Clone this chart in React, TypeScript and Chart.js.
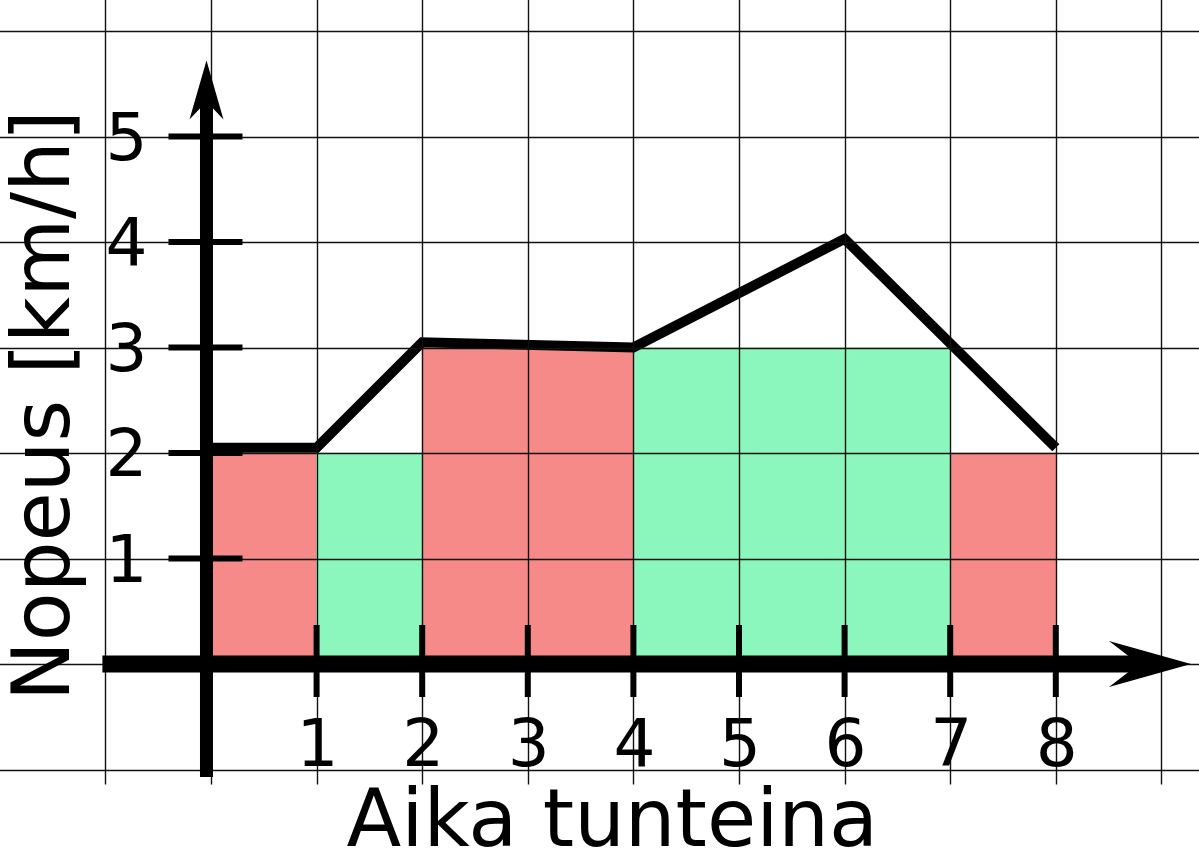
import React, { useEffect, useRef } from 'react';
import { Chart, registerables } from 'chart.js';

Chart.register(...registerables);

// ---- data ----
const barHours = [0.5, 1.5, 2.5, 3.5, 4.5, 5.5, 6.5, 7.5];
const barSpeeds = [2, 2, 3, 3, 3, 3, 3, 2];
const barKinds = ['red', 'green', 'red', 'red', 'green', 'green', 'green', 'red'];
const lineHours = [0, 1, 2, 4, 6, 8];
const lineSpeeds = [2.05, 2.05, 3.05, 3.0, 4.03, 2.05];
const xTickLabels = [1, 2, 3, 4, 5, 6, 7, 8];
const yTickLabels = [1, 2, 3, 4, 5];
const gridXValues = [-1, 0, 1, 2, 3, 4, 5, 6, 7, 8, 9];
const gridYValues = [-1, 0, 1, 2, 3, 4, 5, 6];
const xTitle = 'Aika tunteina';
const yTitle = 'Nopeus [km/h]';

const RED = 'rgb(246,138,136)';
const GREEN = 'rgb(140,247,188)';
const FONT = '"DejaVu Sans", sans-serif';

const drawPlugin = {
  id: 'handDrawnAxes',
  afterDatasetsDraw(chart: any) {
    const ctx = chart.ctx as CanvasRenderingContext2D;
    const xs = chart.scales.x;
    const ys = chart.scales.y;
    const px = (v: number) => xs.getPixelForValue(v);
    const py = (v: number) => ys.getPixelForValue(v);
    const W = chart.width;
    ctx.save();

    // grid
    ctx.strokeStyle = '#111';
    ctx.lineWidth = 1.4;
    ctx.beginPath();
    for (const v of gridXValues) {
      const x = Math.round(px(v)) + 0.5;
      ctx.moveTo(x, 0);
      ctx.lineTo(x, py(-1) + 15);
    }
    for (const v of gridYValues) {
      const y = Math.round(py(v)) + 0.5;
      ctx.moveTo(0, y);
      ctx.lineTo(W, y);
    }
    ctx.stroke();

    ctx.fillStyle = '#000';
    ctx.strokeStyle = '#000';

    // x axis
    const y0 = py(0);
    ctx.lineWidth = 17;
    ctx.lineCap = 'butt';
    ctx.beginPath();
    ctx.moveTo(px(-1) - 3, y0);
    ctx.lineTo(px(8.9), y0);
    ctx.stroke();
    const xTip = px(9.28);
    ctx.beginPath();
    ctx.moveTo(xTip, y0);
    ctx.lineTo(xTip - 82, y0 - 23);
    ctx.lineTo(xTip - 52, y0);
    ctx.lineTo(xTip - 82, y0 + 23);
    ctx.closePath();
    ctx.fill();

    // y axis
    const x0 = px(0) - 4.5;
    ctx.lineWidth = 13;
    ctx.beginPath();
    ctx.moveTo(x0, py(-1) + 7.5);
    ctx.lineTo(x0, py(5.4));
    ctx.stroke();
    const yTip = py(5.72);
    ctx.beginPath();
    ctx.moveTo(x0, yTip);
    ctx.lineTo(x0 - 17, yTip + 59);
    ctx.lineTo(x0, yTip + 41);
    ctx.lineTo(x0 + 17, yTip + 59);
    ctx.closePath();
    ctx.fill();

    // ticks
    ctx.lineWidth = 6;
    ctx.beginPath();
    for (const v of xTickLabels) {
      const x = px(v);
      ctx.moveTo(x, y0 - 39);
      ctx.lineTo(x, y0 + 33);
    }
    for (const v of yTickLabels) {
      const y = py(v);
      ctx.moveTo(x0 - 38, y);
      ctx.lineTo(x0 + 36, y);
    }
    ctx.stroke();

    // tick labels
    ctx.font = `66px ${FONT}`;
    ctx.textAlign = 'center';
    ctx.textBaseline = 'alphabetic';
    for (const v of xTickLabels) {
      ctx.fillText(String(v), px(v) + 1, py(-1) - 3.5);
    }
    for (const v of yTickLabels) {
      ctx.fillText(String(v), px(-0.8), py(v) + 23);
    }

    // titles
    ctx.font = `80px ${FONT}`;
    ctx.fillText(xTitle, px(3.8), chart.height - 2);
    ctx.save();
    ctx.translate(69, py(2.45));
    ctx.rotate(-Math.PI / 2);
    ctx.fillText(yTitle, 0, 0);
    ctx.restore();

    ctx.restore();
  },
};

export default function App() {
  const ref = useRef<HTMLCanvasElement>(null);
  useEffect(() => {
    document.body.style.margin = '0';
    const chart = new Chart(ref.current as HTMLCanvasElement, {
      type: 'bar',
      data: {
        datasets: [
          {
            type: 'line',
            data: lineHours.map((h, i) => ({ x: h, y: lineSpeeds[i] })),
            borderColor: '#000',
            borderWidth: 10,
            borderJoinStyle: 'miter',
            borderCapStyle: 'butt',
            pointRadius: 0,
            tension: 0,
            fill: false,
            order: 0,
          } as any,
          {
            type: 'bar',
            data: barHours.map((h, i) => ({ x: h, y: barSpeeds[i] })),
            backgroundColor: barKinds.map((k) => (k === 'red' ? RED : GREEN)),
            borderWidth: 0,
            barPercentage: 1,
            categoryPercentage: 1,
            order: 1,
          } as any,
        ],
      },
      options: {
        animation: false,
        responsive: true,
        maintainAspectRatio: false,
        layout: { padding: 0 },
        plugins: { legend: { display: false }, tooltip: { enabled: false } },
        events: [],
        scales: {
          x: { type: 'linear', min: -1.998, max: 9.356, offset: false, display: false },
          y: { type: 'linear', min: -1.744, max: 6.294, display: false },
        },
      },
      plugins: [drawPlugin],
    });
    return () => chart.destroy();
  }, []);
  return (
    <div style={{ position: 'absolute', left: 0, top: 0, width: 1199, height: 848 }}>
      <canvas ref={ref} />
    </div>
  );
}
